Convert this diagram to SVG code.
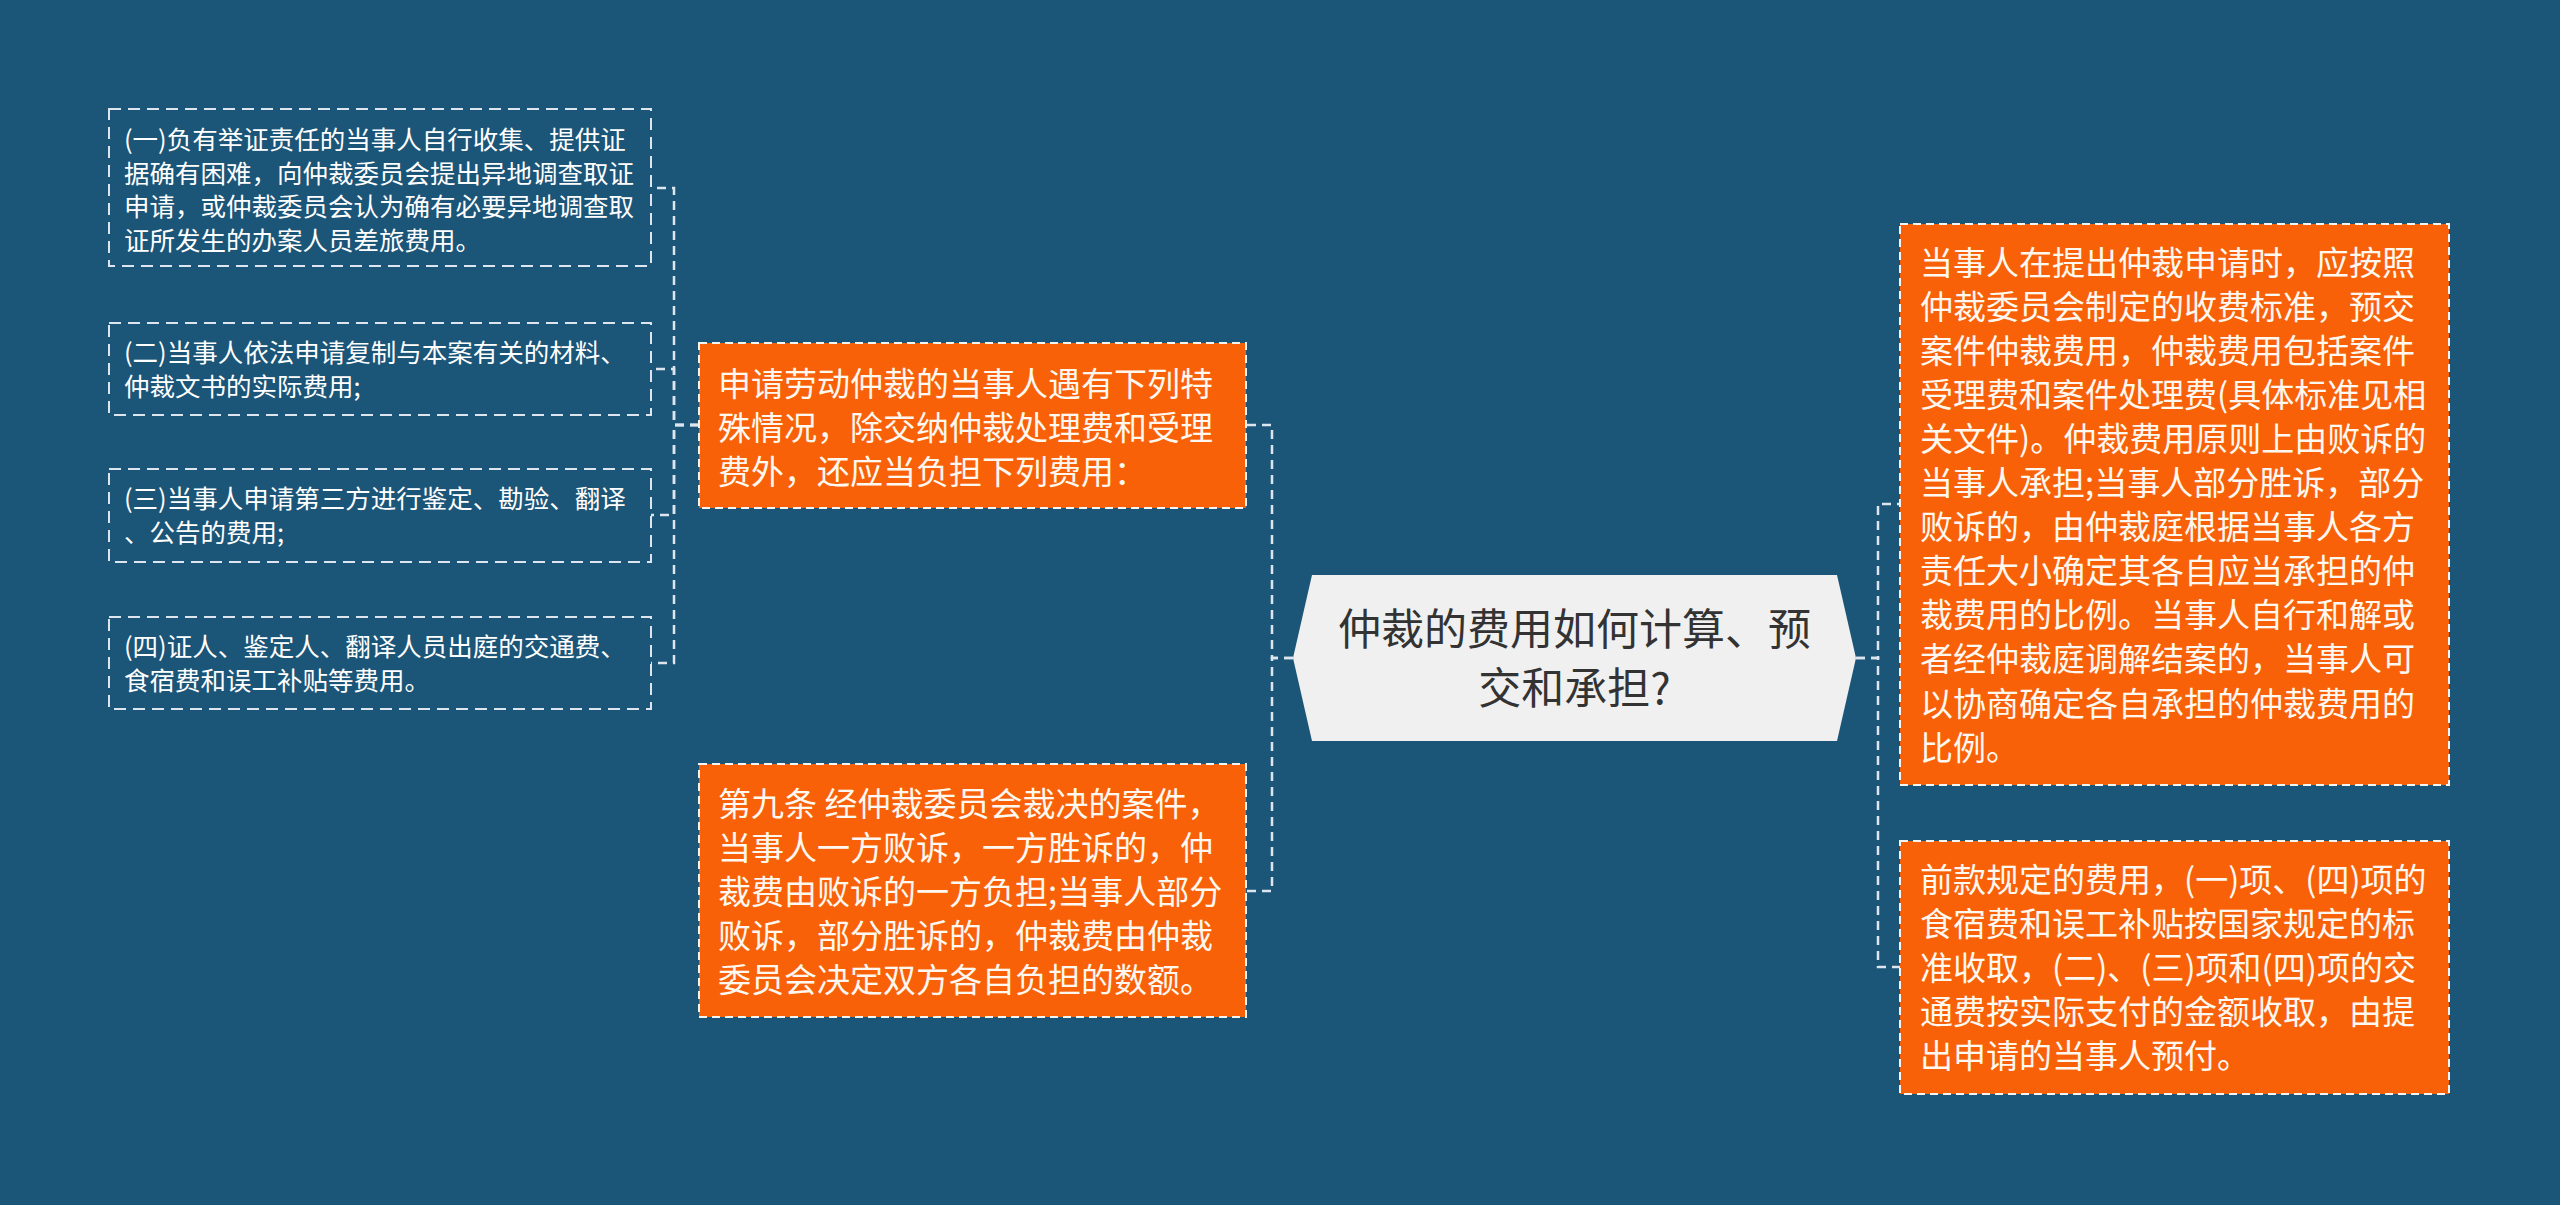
<svg xmlns="http://www.w3.org/2000/svg" width="2560" height="1205" viewBox="0 0 2560 1205">
<style>
.bg{fill:#1b5578}
.leaf{fill:none;stroke:#dde6ee;stroke-width:2;stroke-dasharray:12 7}
.box{fill:#f86108;stroke:#f4f4f4;stroke-width:2;stroke-dasharray:8 5}
.conn{fill:none;stroke:#dde6ee;stroke-width:2.5;stroke-dasharray:9 6}
.t{font-family:"Noto Sans CJK SC","Noto Sans",sans-serif;fill:#ffffff}
.ts{font-size:25.5px}
.tm{font-size:33px;fill:#fff8f0}
.tc{font-family:"Noto Sans CJK SC","Noto Sans",sans-serif;font-size:43px;fill:#333333;text-anchor:middle}
</style>
<rect class="bg" x="0" y="0" width="2560" height="1205"/>
<g id="connectors">
<path class="conn" d="M1293 658 H1272 V425 H1246"/>
<path class="conn" d="M1293 658 H1272 V891 H1246"/>
<path class="conn" d="M1856 658 H1878 V504 H1900"/>
<path class="conn" d="M1856 658 H1878 V967 H1900"/>
<path class="conn" d="M699 425 H674 V188 H651"/>
<path class="conn" d="M699 425 H674 V369 H651"/>
<path class="conn" d="M699 425 H674 V515 H651"/>
<path class="conn" d="M699 425 H674 V663 H651"/>
</g>
<g id="center">
<polygon points="1293,658 1312,575 1837,575 1856,658 1837,741 1312,741" fill="#f0f0f0"/>
<text class="tc" x="1574.5" y="645">仲裁的费用如何计算、预</text>
<text class="tc" x="1574.5" y="704">交和承担?</text>
</g>
<g id="m1">
<rect class="box" x="699" y="343" width="547" height="165"/>
<text class="t tm"><tspan x="718" y="395.5">申请劳动仲裁的当事人遇有下列特</tspan><tspan x="718" y="439.5">殊情况，除交纳仲裁处理费和受理</tspan><tspan x="718" y="483.5">费外，还应当负担下列费用：</tspan></text>
</g>
<g id="m2">
<rect class="box" x="699" y="764" width="547" height="253"/>
<text class="t tm"><tspan x="718" y="815.5">第九条 经仲裁委员会裁决的案件，</tspan><tspan x="718" y="859.5">当事人一方败诉，一方胜诉的，仲</tspan><tspan x="718" y="903.5">裁费由败诉的一方负担;当事人部分</tspan><tspan x="718" y="947.5">败诉，部分胜诉的，仲裁费由仲裁</tspan><tspan x="718" y="991.5">委员会决定双方各自负担的数额。</tspan></text>
</g>
<g id="b1">
<rect class="leaf" x="109" y="109" width="542" height="157"/>
<text class="t ts"><tspan x="124" y="149">(一)负有举证责任的当事人自行收集、提供证</tspan><tspan x="124" y="183">据确有困难，向仲裁委员会提出异地调查取证</tspan><tspan x="124" y="216">申请，或仲裁委员会认为确有必要异地调查取</tspan><tspan x="124" y="250">证所发生的办案人员差旅费用。</tspan></text>
</g>
<g id="b2">
<rect class="leaf" x="109" y="323" width="542" height="92"/>
<text class="t ts"><tspan x="124" y="362">(二)当事人依法申请复制与本案有关的材料、</tspan><tspan x="124" y="396">仲裁文书的实际费用;</tspan></text>
</g>
<g id="b3">
<rect class="leaf" x="109" y="469" width="542" height="93"/>
<text class="t ts"><tspan x="124" y="508">(三)当事人申请第三方进行鉴定、勘验、翻译</tspan><tspan x="124" y="542">、公告的费用;</tspan></text>
</g>
<g id="b4">
<rect class="leaf" x="109" y="617" width="542" height="92"/>
<text class="t ts"><tspan x="124" y="656">(四)证人、鉴定人、翻译人员出庭的交通费、</tspan><tspan x="124" y="690">食宿费和误工补贴等费用。</tspan></text>
</g>
<g id="r1">
<rect class="box" x="1900" y="224" width="549" height="561"/>
<text class="t tm"><tspan x="1920" y="274.5">当事人在提出仲裁申请时，应按照</tspan><tspan x="1920" y="318.6">仲裁委员会制定的收费标准，预交</tspan><tspan x="1920" y="362.7">案件仲裁费用，仲裁费用包括案件</tspan><tspan x="1920" y="406.8">受理费和案件处理费(具体标准见相</tspan><tspan x="1920" y="450.9">关文件)。仲裁费用原则上由败诉的</tspan><tspan x="1920" y="495">当事人承担;当事人部分胜诉，部分</tspan><tspan x="1920" y="539.1">败诉的，由仲裁庭根据当事人各方</tspan><tspan x="1920" y="583.2">责任大小确定其各自应当承担的仲</tspan><tspan x="1920" y="627.3">裁费用的比例。当事人自行和解或</tspan><tspan x="1920" y="671.4">者经仲裁庭调解结案的，当事人可</tspan><tspan x="1920" y="715.5">以协商确定各自承担的仲裁费用的</tspan><tspan x="1920" y="759.6">比例。</tspan></text>
</g>
<g id="r2">
<rect class="box" x="1900" y="841" width="549" height="253"/>
<text class="t tm"><tspan x="1920" y="891.5">前款规定的费用，(一)项、(四)项的</tspan><tspan x="1920" y="935.5">食宿费和误工补贴按国家规定的标</tspan><tspan x="1920" y="979.5">准收取，(二)、(三)项和(四)项的交</tspan><tspan x="1920" y="1023.5">通费按实际支付的金额收取，由提</tspan><tspan x="1920" y="1067.5">出申请的当事人预付。</tspan></text>
</g>
</svg>
